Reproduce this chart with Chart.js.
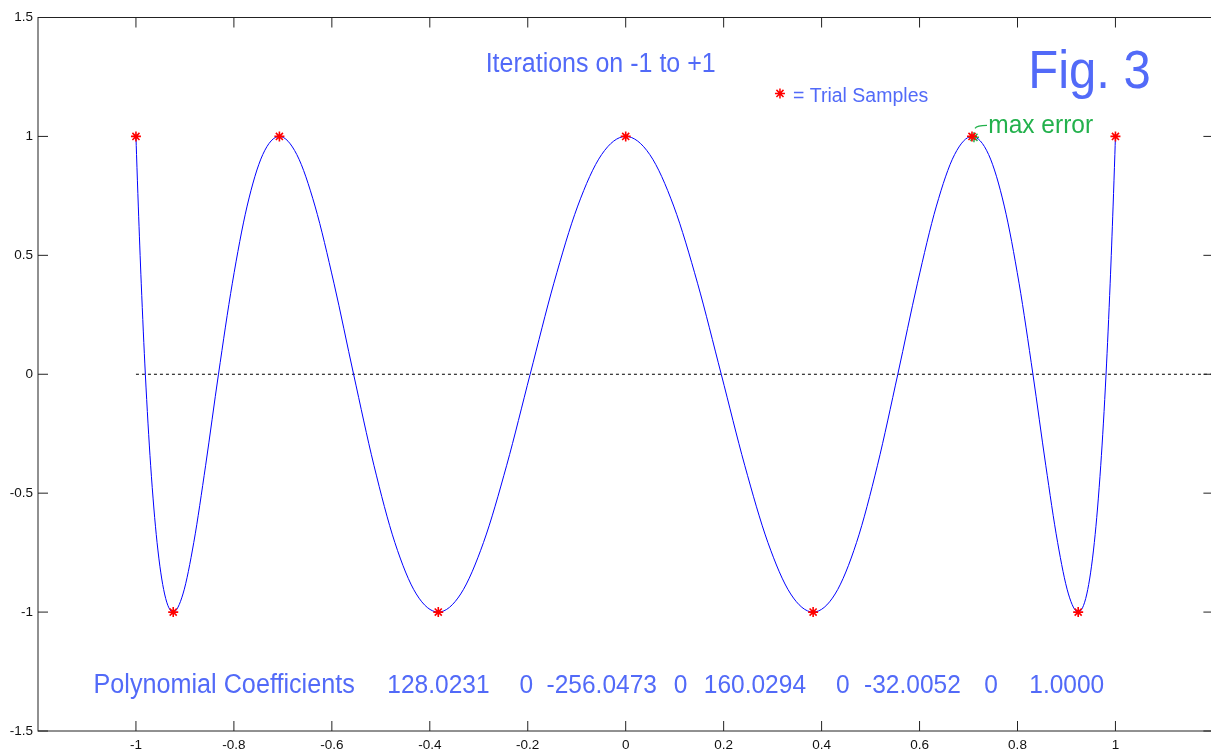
<!DOCTYPE html>
<html>
<head>
<meta charset="utf-8">
<title>Iterations on -1 to +1</title>
<script src="https://cdn.jsdelivr.net/npm/chart.js@4.4.1/dist/chart.umd.min.js"></script>
<style>
    html, body { margin: 0; padding: 0; background: #fff; overflow: hidden; }
    canvas { display: block; }
</style>
</head>
<body>
<canvas id="fig3" width="1220" height="749"></canvas>
<script>
// Error curve sampled over -1..+1
const curveX = [
    -1, -0.9988, -0.9952, -0.9892, -0.9808, -0.9700, -0.9569, -0.9415, -0.9239, -0.9040,
    -0.8819, -0.8577, -0.8315, -0.8032, -0.7730, -0.7410, -0.7071, -0.6716, -0.6344, -0.5957,
    -0.5556, -0.5141, -0.4714, -0.4276, -0.3827, -0.3369, -0.2903, -0.2430, -0.1951, -0.1467,
    -0.0980, -0.0491, 0, 0.0491, 0.0980, 0.1467, 0.1951, 0.2430, 0.2903, 0.3369,
    0.3827, 0.4276, 0.4714, 0.5141, 0.5556, 0.5957, 0.6344, 0.6716, 0.7071, 0.7410,
    0.7730, 0.8032, 0.8315, 0.8577, 0.8819, 0.9040, 0.9239, 0.9415, 0.9569, 0.9700,
    0.9808, 0.9892, 0.9952, 0.9988, 1
];
const curveY = [
    1, 0.9239, 0.7071, 0.3827, 0, -0.3827, -0.7071, -0.9239, -1, -0.9239,
    -0.7071, -0.3827, 0, 0.3827, 0.7071, 0.9239, 1, 0.9239, 0.7071, 0.3827,
    0, -0.3827, -0.7071, -0.9239, -1, -0.9239, -0.7071, -0.3827, 0, 0.3827,
    0.7071, 0.9239, 1, 0.9239, 0.7071, 0.3827, 0, -0.3827, -0.7071, -0.9239,
    -1, -0.9239, -0.7071, -0.3827, 0, 0.3827, 0.7071, 0.9239, 1, 0.9239,
    0.7071, 0.3827, 0, -0.3827, -0.7071, -0.9239, -1, -0.9239, -0.7071, -0.3827,
    0, 0.3827, 0.7071, 0.9239, 1
];

// Trial samples (red asterisks)
const sampleX = [-1, -0.9239, -0.7071, -0.3827, 0, 0.3827, 0.7071, 0.9239, 1];
const sampleY = [1, -1, 1, -1, 1, -1, 1, -1, 1];

// Sample with the largest error
const maxErrX = [0.7071];
const maxErrY = [1];

// Zero reference line
const zeroLineX = [-1, 1.2];
const zeroLineY = [0, 0];

const coefficients = [128.0231, 0, -256.0473, 0, 160.0294, 0, -32.0052, 0, 1.0000];

const xTicks = [-1, -0.8, -0.6, -0.4, -0.2, 0, 0.2, 0.4, 0.6, 0.8, 1];
const yTicks = [-1.5, -1, -0.5, 0, 0.5, 1, 1.5];

const toPoints = (xs, ys) => xs.map((x, i) => ({ x: x, y: ys[i] }));

const FONT = '"Liberation Sans", Arial, sans-serif';
const BLUE_TEXT = 'rgb(82, 106, 248)';
const GREEN_TEXT = 'rgb(34, 177, 76)';
const RED = 'rgb(255, 0, 0)';
const STRETCH = 1.08;

function drawLabel(ctx, text, x, y, size, color, align) {
    ctx.save();
    ctx.translate(x, y);
    ctx.scale(1, STRETCH);
    ctx.font = size + 'px ' + FONT;
    ctx.fillStyle = color;
    ctx.textAlign = align || 'left';
    ctx.textBaseline = 'alphabetic';
    ctx.fillText(text, 0, 0);
    ctx.restore();
}

function fmtCoef(v) {
    return v === 0 ? '0' : v.toFixed(4);
}

// Axes box with inward tick marks on all four sides
const framePlugin = {
    id: 'frame',
    afterDatasetsDraw(chart) {
        const ctx = chart.ctx;
        const a = chart.chartArea;
        const xs = chart.scales.x, ys = chart.scales.y;
        const len = 10;
        ctx.save();
        ctx.strokeStyle = '#222';
        ctx.lineWidth = 1;
        ctx.strokeRect(a.left, a.top, a.right - a.left, a.bottom - a.top);
        ctx.beginPath();
        xTicks.forEach(v => {
            const px = xs.getPixelForValue(v);
            ctx.moveTo(px, a.bottom); ctx.lineTo(px, a.bottom - len);
            ctx.moveTo(px, a.top); ctx.lineTo(px, a.top + len);
        });
        yTicks.forEach(v => {
            const py = ys.getPixelForValue(v);
            ctx.moveTo(a.left, py); ctx.lineTo(a.left + len, py);
            ctx.moveTo(a.right, py); ctx.lineTo(a.right - len, py);
        });
        ctx.stroke();
        ctx.restore();
    }
};

// Title, legend note, figure tag and coefficient line
const notesPlugin = {
    id: 'notes',
    afterDraw(chart) {
        const ctx = chart.ctx;
        const xs = chart.scales.x, ys = chart.scales.y;
        const X = v => xs.getPixelForValue(v);
        const Y = v => ys.getPixelForValue(v);

        drawLabel(ctx, 'Iterations on -1 to +1', X(-0.0511), Y(1.269), 25, BLUE_TEXT, 'center');
        drawLabel(ctx, 'Fig. 3', X(0.822), Y(1.2017), 49, BLUE_TEXT);

        // legend entry for the trial samples
        ctx.save();
        ctx.strokeStyle = RED;
        ctx.fillStyle = RED;
        ctx.lineWidth = 1.5;
        Chart.helpers.drawPoint(ctx, { pointStyle: 'star', radius: 5, rotation: 0, borderWidth: 1.5 }, X(0.315), Y(1.1807));
        ctx.restore();
        drawLabel(ctx, '= Trial Samples', X(0.3415), Y(1.1429), 19.5, BLUE_TEXT);

        // max error tag with its small leader
        const mx = X(maxErrX[0]), my = Y(maxErrY[0]);
        ctx.save();
        ctx.strokeStyle = GREEN_TEXT;
        ctx.lineWidth = 1.2;
        ctx.beginPath();
        ctx.moveTo(mx + 3, my - 8);
        ctx.quadraticCurveTo(mx + 5, my - 11, mx + 15, my - 11);
        ctx.stroke();
        ctx.restore();
        drawLabel(ctx, 'max error', X(0.7403), Y(1.0126), 24.5, GREEN_TEXT);

        // polynomial coefficients, highest power first
        const base = Y(-1.3403);
        drawLabel(ctx, 'Polynomial Coefficients', X(-1.0867), base, 25.2, BLUE_TEXT);
        const coefLeft = [-0.4867, -0.2168, -0.1616, 0.0982, 0.1595, 0.4294, 0.4867, 0.7321, 0.8241];
        coefficients.forEach((c, i) => {
            drawLabel(ctx, fmtCoef(c), X(coefLeft[i]), base, 24.5, BLUE_TEXT);
        });
    }
};

const ctx = document.getElementById('fig3').getContext('2d');

new Chart(ctx, {
    type: 'line',
    data: {
        datasets: [
            {
                label: 'Trial Samples',
                data: toPoints(sampleX, sampleY),
                showLine: false,
                pointStyle: 'star',
                pointRadius: 5,
                pointBorderWidth: 1.6,
                pointBorderColor: RED,
                pointBackgroundColor: RED,
                order: 0
            },
            {
                label: 'max error',
                data: toPoints(maxErrX, maxErrY).map(p => ({ x: p.x + 0.004, y: p.y - 0.004 })),
                showLine: false,
                pointStyle: 'star',
                pointRadius: 5,
                pointBorderWidth: 1.5,
                pointBorderColor: GREEN_TEXT,
                order: 1
            },
            {
                label: 'error',
                data: toPoints(curveX, curveY),
                borderColor: 'rgb(0, 0, 255)',
                borderWidth: 1,
                pointRadius: 0,
                cubicInterpolationMode: 'monotone',
                fill: false,
                order: 2
            },
            {
                label: 'zero',
                data: toPoints(zeroLineX, zeroLineY),
                borderColor: '#000',
                borderWidth: 1,
                borderDash: [3, 3],
                pointRadius: 0,
                order: 3
            }
        ]
    },
    options: {
        responsive: false,
        animation: false,
        layout: { padding: { top: 17.5, right: 2, left: 0, bottom: 0 } },
        plugins: {
            legend: { display: false },
            tooltip: { enabled: false }
        },
        scales: {
            x: {
                type: 'linear',
                min: -1.2,
                max: 1.2,
                grid: { display: false, drawTicks: false },
                border: { display: false },
                afterBuildTicks: axis => { axis.ticks = xTicks.map(v => ({ value: v })); },
                afterFit: axis => { axis.height = 18; },
                ticks: {
                    padding: 6,
                    color: '#111',
                    font: { family: FONT, size: 13.5 },
                    maxRotation: 0,
                    callback: v => String(v)
                }
            },
            y: {
                type: 'linear',
                min: -1.5,
                max: 1.5,
                grid: { display: false, drawTicks: false },
                border: { display: false },
                afterBuildTicks: axis => { axis.ticks = yTicks.map(v => ({ value: v })); },
                afterFit: axis => { axis.width = 38; },
                ticks: {
                    padding: 5,
                    color: '#111',
                    font: { family: FONT, size: 13.5 },
                    callback: v => String(v)
                }
            }
        }
    },
    plugins: [framePlugin, notesPlugin]
});
</script>
</body>
</html>
